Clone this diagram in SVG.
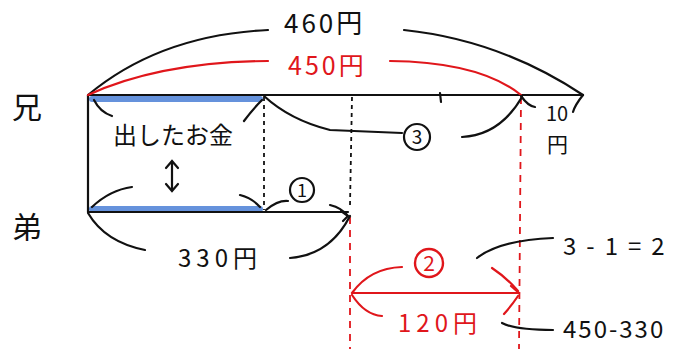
<svg xmlns="http://www.w3.org/2000/svg" width="697" height="349" viewBox="0 0 697 349">
<style>
.t{font-family:"Noto Sans CJK JP","Liberation Sans",sans-serif;fill:#111}
.r{fill:#e0161b}
.k{fill:none;stroke:#111;stroke-width:2.2;stroke-linecap:round}
.rk{fill:none;stroke:#e0161b;stroke-width:2.2;stroke-linecap:round}
.rd{fill:none;stroke:#e0161b;stroke-width:1.8;stroke-dasharray:7 6}
.kd{fill:none;stroke:#111;stroke-width:1.8;stroke-dasharray:4 4}
.blue{fill:none;stroke:#4a7fd6;stroke-width:6;stroke-linecap:round;opacity:.85}
</style>
<rect width="697" height="349" fill="#fff"/>
<g id="labels">
<text class="t" x="12" y="118" font-size="30">兄</text>
<text class="t" x="12" y="238" font-size="30">弟</text>
</g>
<g id="bars">
<line class="blue" x1="92" y1="99" x2="260" y2="99"/>
<line class="blue" x1="92" y1="209" x2="260" y2="209"/>
<line class="k" x1="88" y1="95" x2="583" y2="95"/>
<line class="k" x1="88" y1="212" x2="348" y2="212"/>
<line class="k" x1="88" y1="95" x2="88" y2="212"/>
<line class="kd" x1="264" y1="97" x2="264" y2="210"/>
<line class="kd" x1="352" y1="97" x2="350" y2="205"/>
<line class="k" x1="440" y1="93" x2="441" y2="102"/>
<line class="rd" x1="350" y1="217" x2="350" y2="349"/>
<line class="rd" x1="521" y1="97" x2="519" y2="349"/>
</g>
<g id="connectors">
<path class="k" d="M88 95 Q160 35 268 30"/>
<path class="k" d="M404 30 Q500 40 583 95"/>
<path class="rk" d="M88 95 Q160 62 268 61"/>
<path class="rk" d="M390 61 Q480 62 521 95"/>
<path class="k" d="M94 100 Q100 112 112 116"/>
<path class="k" d="M262 100 Q252 110 244 121"/>
<path class="k" d="M172 162 L172 190 M166 168 L172 161 L178 168 M166 184 L172 191 L178 184"/>
<path class="k" d="M92 207 Q110 190 132 187"/>
<path class="k" d="M260 207 Q252 198 240 195"/>
<path class="k" d="M264 96 Q290 120 330 130 L402 133"/>
<path class="k" d="M462 137 Q500 135 522 97"/>
<path class="k" d="M521 96 Q528 106 535 107"/>
<path class="k" d="M583 95 Q575 105 573 112"/>
<path class="k" d="M266 210 Q278 200 288 201"/>
<path class="k" d="M330 205 Q342 208 348 216 M341 211 L348 216 L343 221"/>
<path class="k" d="M88 213 Q105 242 145 250"/>
<path class="k" d="M290 258 Q330 255 350 216"/>
<path class="rk" d="M352 293 L519 293 M511 286 L519 293 M352 293 Q370 268 402 267"/>
<path class="rk" d="M492 268 Q507 278 518 291"/>
<path class="rk" d="M352 295 Q365 315 382 316"/>
<path class="rk" d="M504 314 Q512 305 518 296"/>
<path class="k" d="M477 258 Q500 240 553 238"/>
<path class="k" d="M502 323 Q515 330 553 330"/>
</g>
<g id="texts">
<text class="t" x="284" y="33" font-size="26" letter-spacing="3">460円</text>
<text class="t r" x="288" y="75" font-size="25" letter-spacing="3">450円</text>
<text class="t" x="113" y="144" font-size="24">出したお金</text>
<text class="t" x="546" y="121" font-size="20">10</text>
<text class="t" x="547" y="152" font-size="21">円</text>
<circle cx="417" cy="137" r="13" fill="none" stroke="#111" stroke-width="2.2"/>
<text class="t" x="417" y="144" font-size="19" text-anchor="middle">3</text>
<circle cx="302" cy="190" r="12" fill="none" stroke="#111" stroke-width="2.2"/>
<text class="t" x="302" y="197" font-size="18" text-anchor="middle">1</text>
<text class="t" x="178" y="267" font-size="24" letter-spacing="5">330円</text>
<circle cx="429" cy="263" r="14" fill="none" stroke="#e0161b" stroke-width="2.4"/>
<text class="t r" x="429" y="271" font-size="21" text-anchor="middle">2</text>
<text class="t r" x="398" y="332" font-size="24" letter-spacing="5">120円</text>
<text class="t" x="563" y="255" font-size="24" letter-spacing="10">3-1=2</text>
<text class="t" x="563" y="338" font-size="24" letter-spacing="2">450-330</text>
</g>
</svg>
